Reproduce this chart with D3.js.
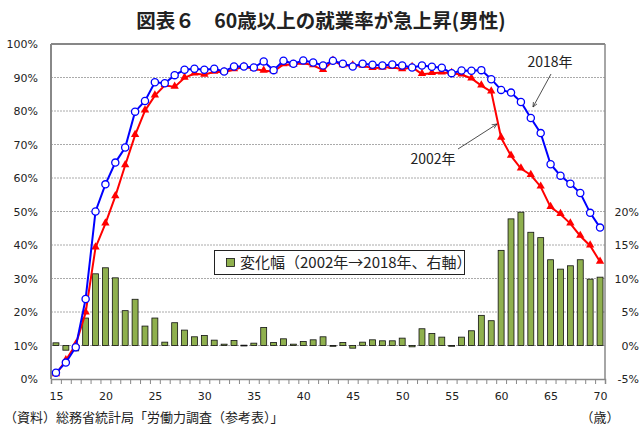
<!DOCTYPE html>
<html>
<head>
<meta charset="utf-8">
<script src="https://cdn.jsdelivr.net/npm/d3@7"></script>
<style>
  body { margin: 0; background: #fff; }
  svg { display: block; }
  text { font-family: "DejaVu Sans", "Noto Sans CJK JP", sans-serif; fill: #222; }
  .jp { font-family: "Noto Sans CJK JP", sans-serif; }
</style>
</head>
<body>
<svg id="chart" width="640" height="427"></svg>
<script>
// ages (categories)
var ages = [15,16,17,18,19,20,21,22,23,24,25,26,27,28,29,30,31,32,33,34,35,36,37,38,39,40,41,42,
            43,44,45,46,47,48,49,50,51,52,53,54,55,56,57,58,59,60,61,62,63,64,65,66,67,68,69,70];

// employment rate 2018 (%)
var rate2018 = [1.9,4.9,9.5,23.9,50.0,58.1,64.6,69.1,79.8,83.0,88.6,88.3,90.7,92.3,92.6,92.3,92.6,91.8,
                93.3,93.3,93.0,94.8,92.2,95.0,94.1,95.1,94.5,93.6,95.0,94.1,93.3,94.1,93.8,93.6,93.9,93.6,
                93.0,93.6,93.2,92.9,91.3,92.1,92.0,92.2,89.5,86.3,85.5,82.7,77.9,73.4,64.1,60.7,58.3,55.5,
                49.6,45.2];

// employment rate 2002 (%)
var rate2002 = [1.4,5.6,10.3,19.8,39.2,46.4,54.5,63.8,72.8,80.1,84.6,87.7,87.2,89.9,91.2,90.8,91.7,91.6,
                92.4,93.2,92.6,92.0,91.8,93.9,93.8,94.4,93.6,92.2,95.0,93.6,93.6,93.5,92.8,92.9,93.1,92.4,
                93.1,91.0,91.3,91.5,91.3,90.9,89.7,87.6,85.8,72.0,66.6,62.8,60.9,57.4,51.3,49.2,46.4,42.7,
                39.8,35.0];

// change 2002 -> 2018 (points, right axis)
var change = [0.4,-0.7,-0.8,4.1,10.7,11.6,10.1,5.2,6.9,2.9,4.1,0.5,3.4,2.3,1.3,1.5,0.8,0.2,
              0.75,0.05,0.35,2.7,0.45,1.0,0.2,0.6,0.85,1.3,-0.1,0.45,-0.4,0.5,0.85,0.7,0.7,1.1,
              -0.2,2.5,1.8,1.25,-0.05,1.25,2.2,4.5,3.7,14.2,18.9,19.9,16.9,16.1,12.8,11.4,11.9,12.8,
              9.9,10.2];

var leftTicks = [0,10,20,30,40,50,60,70,80,90,100];
var rightTicks = [-5,0,5,10,15,20];
var xLabels = [15,20,25,30,35,40,45,50,55,60,65,70];

var svg = d3.select("#chart");

var pL = 51, pR = 605, pT = 44, pB = 379;

var x = d3.scaleLinear().domain([14.5, 70.5]).range([pL, pR]);
var y = d3.scaleLinear().domain([0, 100]).range([pB, pT]);
var y2 = d3.scaleLinear().domain([-5, 45]).range([pB, pT]);

// title
svg.append("text")
    .attr("class", "jp")
    .attr("x", 321).attr("y", 28)
    .attr("text-anchor", "middle")
    .style("font-size", "19.5px").style("font-weight", "bold")
    .text("図表６　60歳以上の就業率が急上昇(男性)");

// gridlines
svg.append("g").selectAll("line")
    .data(leftTicks.slice(1, -1))
    .enter().append("line")
    .attr("x1", pL).attr("x2", pR)
    .attr("y1", function(d) { return y(d); })
    .attr("y2", function(d) { return y(d); })
    .attr("stroke", "#aaa").attr("stroke-width", 1)
    .attr("stroke-dasharray", "2,1");

// left axis
var gLeft = svg.append("g").attr("transform", "translate(" + pL + ",0)")
    .call(d3.axisLeft(y).tickValues(leftTicks).tickSize(0).tickPadding(13)
        .tickFormat(function(d) { return d + "%"; }));
gLeft.select(".domain").remove();
gLeft.selectAll("text").style("font-size", "11px").style("fill", "#222");

// right axis
var gRight = svg.append("g").attr("transform", "translate(" + pR + ",0)")
    .call(d3.axisRight(y2).tickValues(rightTicks).tickSize(0).tickPadding(0)
        .tickFormat(function(d) { return d + "%"; }));
gRight.select(".domain").remove();
gRight.selectAll("text").attr("x", 34).attr("text-anchor", "end")
    .style("font-size", "11px").style("fill", "#222");

// bars
var barW = (x(1) - x(0)) * 0.6;
svg.append("g").selectAll("rect")
    .data(change)
    .enter().append("rect")
    .attr("x", function(d, i) { return x(ages[i]) - barW / 2; })
    .attr("y", function(d) { return y2(Math.max(d, 0)); })
    .attr("width", barW)
    .attr("height", function(d) { return Math.max(Math.abs(y2(d) - y2(0)), 0.8); })
    .attr("fill", "#8fb04e")
    .attr("stroke", "#111").attr("stroke-width", 0.8);

// frame
svg.append("line").attr("x1", pL).attr("x2", pR).attr("y1", pT).attr("y2", pT)
    .attr("stroke", "#111").attr("stroke-width", 1.2);
svg.append("line").attr("x1", pR).attr("x2", pR).attr("y1", pT).attr("y2", pB)
    .attr("stroke", "#888").attr("stroke-width", 1.5);
svg.append("line").attr("x1", pL).attr("x2", pL).attr("y1", pT).attr("y2", pB)
    .attr("stroke", "#888").attr("stroke-width", 2);

// bottom axis: ticks at category edges, labels every 5
var edges = ages.map(function(a) { return a - 0.5; }).concat([70.5]);
var gTicks = svg.append("g").attr("transform", "translate(0," + pB + ")")
    .call(d3.axisBottom(x).tickValues(edges).tickSize(5).tickFormat(""));
gTicks.selectAll("line").attr("stroke", "#888");
gTicks.select(".domain").attr("stroke", "#888").attr("stroke-width", 1.5);

var gX = svg.append("g").attr("transform", "translate(0," + pB + ")")
    .call(d3.axisBottom(x).tickValues(xLabels).tickSize(0).tickPadding(13)
        .tickFormat(d3.format("d")));
gX.select(".domain").remove();
gX.selectAll("text").style("font-size", "11px").style("fill", "#222");

// lines
var lineGen = d3.line().x(function(d, i) { return x(ages[i]); }).y(function(d) { return y(d); });

svg.append("path").datum(rate2002)
    .attr("d", lineGen).attr("fill", "none")
    .attr("stroke", "#ff0000").attr("stroke-width", 2);

svg.append("g").selectAll("path")
    .data(rate2002)
    .enter().append("path")
    .attr("d", d3.symbol(d3.symbolTriangle).size(30))
    .attr("transform", function(d, i) { return "translate(" + x(ages[i]) + "," + (y(d) - 0.5) + ")"; })
    .attr("fill", "#ff0000");

svg.append("path").datum(rate2018)
    .attr("d", lineGen).attr("fill", "none")
    .attr("stroke", "#0000ff").attr("stroke-width", 2);

svg.append("g").selectAll("circle")
    .data(rate2018)
    .enter().append("circle")
    .attr("cx", function(d, i) { return x(ages[i]); })
    .attr("cy", function(d) { return y(d); })
    .attr("r", 3.6)
    .attr("fill", "#fff").attr("stroke", "#0000ff").attr("stroke-width", 1.3);

// legend
var lg = svg.append("g");
lg.append("rect").attr("x", 214.5).attr("y", 250.5).attr("width", 250).attr("height", 24)
    .attr("fill", "#fff").attr("stroke", "#222").attr("stroke-width", 1);
lg.append("rect").attr("x", 226.5).attr("y", 258.5).attr("width", 8).attr("height", 8)
    .attr("fill", "#8fb04e").attr("stroke", "#111").attr("stroke-width", 0.8);
lg.append("text").attr("class", "jp").attr("x", 240).attr("y", 268)
    .style("font-size", "15px")
    .text("変化幅（2002年→2018年、右軸）");

// annotations
var defs = svg.append("defs");
defs.append("marker").attr("id", "arr")
    .attr("viewBox", "0 0 10 10").attr("refX", 9).attr("refY", 5)
    .attr("markerWidth", 7).attr("markerHeight", 7).attr("orient", "auto")
    .append("path").attr("d", "M0,1 L9,5 L0,9").attr("fill", "none")
    .attr("stroke", "#222").attr("stroke-width", 1.2);

svg.append("text").attr("class", "jp").attr("x", 550).attr("y", 67)
    .attr("text-anchor", "middle").style("font-size", "14px").text("2018年");
svg.append("line").attr("x1", 551).attr("y1", 74).attr("x2", 533).attr("y2", 107)
    .attr("stroke", "#222").attr("stroke-width", 0.8).attr("marker-end", "url(#arr)");

svg.append("text").attr("class", "jp").attr("x", 433).attr("y", 164)
    .attr("text-anchor", "middle").style("font-size", "14px").text("2002年");
svg.append("line").attr("x1", 458).attr("y1", 149).attr("x2", 497).attr("y2", 124)
    .attr("stroke", "#222").attr("stroke-width", 0.8).attr("marker-end", "url(#arr)");

// source and unit
svg.append("text").attr("class", "jp").attr("x", 4).attr("y", 422)
    .style("font-size", "13px").text("（資料）総務省統計局「労働力調査（参考表）」");
svg.append("text").attr("class", "jp").attr("x", 600).attr("y", 422)
    .attr("text-anchor", "middle").style("font-size", "13px").text("（歳）");
</script>
</body>
</html>
